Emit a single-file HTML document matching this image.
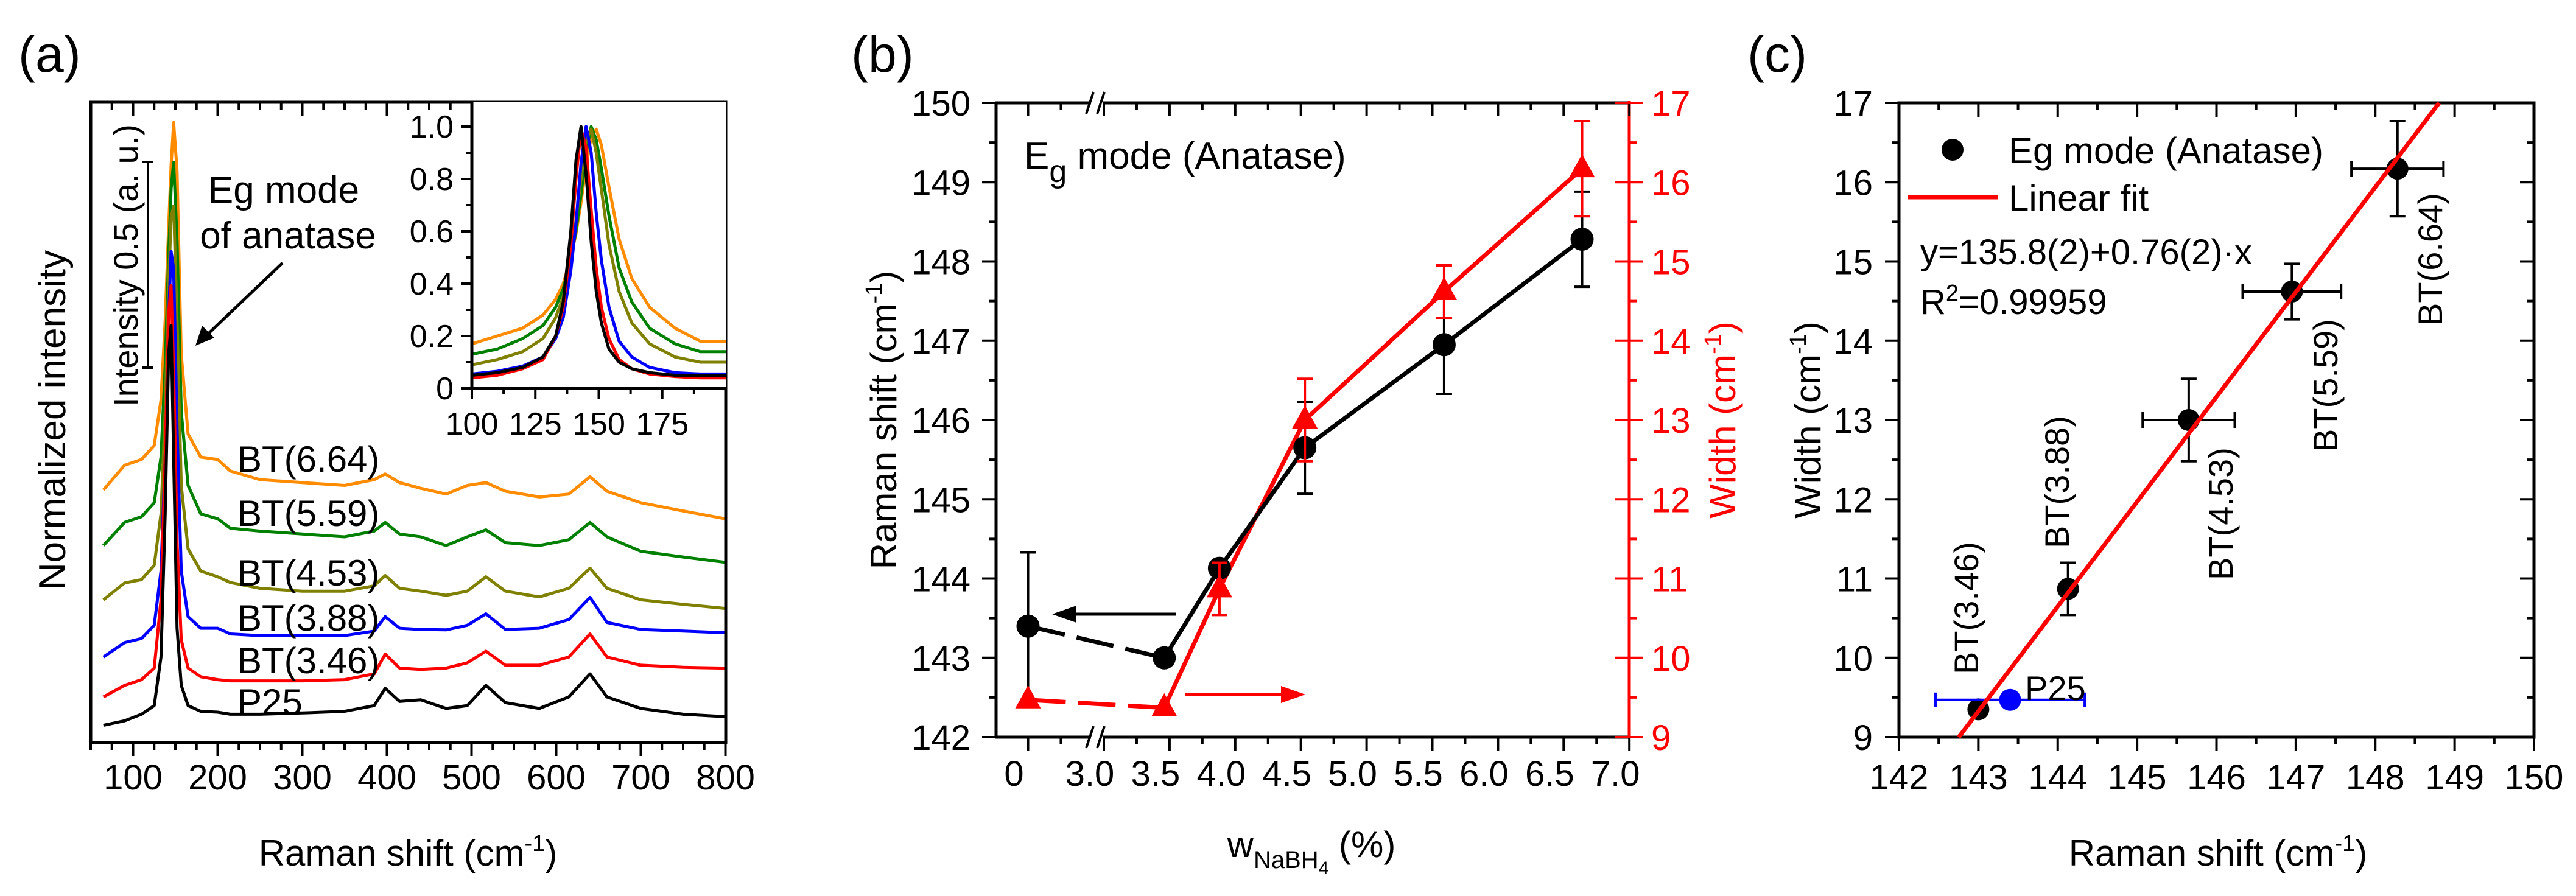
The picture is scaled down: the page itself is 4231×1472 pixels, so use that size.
<!DOCTYPE html>
<html><head><meta charset="utf-8"><title>Raman figure</title>
<style>
html,body{margin:0;padding:0;background:#fff;}
svg{display:block;font-family:"Liberation Sans",Arial,sans-serif;}
</style></head>
<body>
<svg id="fig" xmlns="http://www.w3.org/2000/svg" width="4231" height="1472" viewBox="0 0 4231 1472">
<rect x="0" y="0" width="4231" height="1472" fill="#ffffff"/>
<g id="pa"></g>
<g id="pb"></g>
<g id="pc"></g>

<!-- Panel a static text -->
<text x="30" y="118" font-size="84">(a)</text>
<text x="670" y="1422" font-size="60" text-anchor="middle">Raman shift (cm<tspan dy="-24" font-size="38">-1</tspan><tspan dy="24">)</tspan></text>
<text transform="translate(107,690) rotate(-90)" font-size="62" text-anchor="middle">Normalized intensity</text>
<text transform="translate(226,436) rotate(-90)" font-size="56" text-anchor="middle">Intensity 0.5 (a. u.)</text>
<text x="466" y="333" font-size="62" text-anchor="middle">Eg mode</text>
<text x="473" y="408" font-size="62" text-anchor="middle">of anatase</text>
<g font-size="60">
<text x="390" y="775">BT(6.64)</text>
<text x="390" y="864">BT(5.59)</text>
<text x="390" y="962">BT(4.53)</text>
<text x="390" y="1036">BT(3.88)</text>
<text x="390" y="1106">BT(3.46)</text>
<text x="390" y="1174">P25</text>
</g>

<!-- Panel b static text -->
<text x="1398" y="118" font-size="84">(b)</text>
<text x="1682" y="277" font-size="62">E<tspan dy="22" font-size="52">g</tspan><tspan dy="-22"> mode (Anatase)</tspan></text>
<text transform="translate(1472,690) rotate(-90)" font-size="60" text-anchor="middle">Raman shift (cm<tspan dy="-24" font-size="38">-1</tspan><tspan dy="24">)</tspan></text>
<text transform="translate(2850,690) rotate(-90)" font-size="60" text-anchor="middle" fill="#ff0000">Width (cm<tspan dy="-24" font-size="38">-1</tspan><tspan dy="24">)</tspan></text>
<text x="2154" y="1408" font-size="60" text-anchor="middle">w<tspan dy="18" font-size="40">NaBH</tspan><tspan dy="10" font-size="30">4</tspan><tspan dy="-28"> (%)</tspan></text>

<!-- Panel c static text -->
<text x="2870" y="118" font-size="84">(c)</text>
<text transform="translate(2990,690) rotate(-90)" font-size="60" text-anchor="middle">Width (cm<tspan dy="-24" font-size="38">-1</tspan><tspan dy="24">)</tspan></text>
<text x="3643" y="1422" font-size="60" text-anchor="middle">Raman shift (cm<tspan dy="-24" font-size="38">-1</tspan><tspan dy="24">)</tspan></text>
<g>
<circle cx="3207" cy="246" r="18" fill="#000"/>
<text x="3299" y="268" font-size="60">Eg mode (Anatase)</text>
<line x1="3134" y1="324" x2="3282" y2="324" stroke="#ff0000" stroke-width="7"/>
<text x="3299" y="346" font-size="60">Linear fit</text>
</g>
<text x="3154" y="434" font-size="58">y=135.8(2)+0.76(2)·x</text>
<text x="3154" y="516" font-size="58">R<tspan dy="-22" font-size="38">2</tspan><tspan dy="22">=0.99959</tspan></text>
<text x="3326" y="1150" font-size="56">P25</text>
<g font-size="56">
<text transform="translate(3249,1108) rotate(-90)">BT(3.46)</text>
<text transform="translate(3398,901) rotate(-90)">BT(3.88)</text>
<text transform="translate(3667,953) rotate(-90)">BT(4.53)</text>
<text transform="translate(3839,742) rotate(-90)">BT(5.59)</text>
<text transform="translate(4011,535) rotate(-90)">BT(6.64)</text>
</g>
</svg>

<script>
// ---------- Panel a data ----------
const specX = [65,90,110,125,133,138,142,145,148,152,157,165,180,200,215,250,300,350,385,398,415,440,470,495,517,540,580,615,640,660,700,750,800];
const specP25 = [4.2,5.3,6.9,9,20.8,55.6,94.4,101.4,69.4,27.8,13.9,9,7.6,7.4,6.9,6.9,7.2,7.6,9,13.2,10,10.4,8.3,9,13.9,9.7,8.3,11.1,16.7,11.1,8.3,6.9,6.3];
const specBT346 = [11.1,13.9,15.3,18.1,34.7,69.4,104.2,111.1,90.3,48.6,25,18.1,16,15.3,15,15,15,15.3,16.7,21.5,18.1,17.8,18.1,19.4,22.2,18.8,18.8,20.8,26.4,20.8,18.8,18.3,18.1];
const specBT388 = [20.8,24.3,25.3,28.5,41.7,69.4,102.8,119.4,115.1,76.4,41.7,30.6,27.8,27.8,26.4,26,26,26,27.1,30.6,27.8,27.5,27.4,28.5,31.3,27.5,27.8,29.9,35.3,29.2,27.5,27.1,26.7];
const specBT453 = [34.7,38.8,39.6,43.1,55.6,80.4,111.1,127.6,130.4,102.6,62.5,47.1,41.7,40.3,38.9,37.5,36.8,36.8,38.1,40.6,37.5,36.8,35.8,36.8,40.3,36.8,35.4,37.5,42.4,37.5,34.7,33.6,32.6];
const specBT559 = [47.9,53.5,54.9,58.3,69.4,91.5,118,134.6,141,122,80.4,62.5,55.6,54.4,52.1,51.4,50.7,50,51.4,53.5,50.7,50,47.9,50,51.7,48.6,47.9,49.3,53.5,50,46.5,45.1,43.8];
const specBT664 = [61.4,67.4,68.8,72.2,83.3,102.8,125,140.3,150.7,138.9,94.4,75,69.4,68.8,66,63.9,63.2,62.5,63.9,65.3,63.2,61.8,60.4,62.5,63.2,61.1,59.7,60.4,64.6,61.1,58.3,56.3,54.4];
const xTicksA = [100,200,300,400,500,600,700,800];
// inset
const insetX = [100,110,120,128,133,136,139,141,143,145,147,149,151,154,158,163,170,180,190,200];
const insP25 = [0.05,0.06,0.08,0.12,0.2,0.33,0.6,0.87,1.0,0.82,0.56,0.37,0.25,0.15,0.1,0.075,0.06,0.05,0.048,0.048];
const insBT346 = [0.04,0.05,0.075,0.11,0.2,0.31,0.55,0.8,0.99,0.92,0.68,0.46,0.31,0.19,0.11,0.075,0.055,0.045,0.04,0.04];
const insBT388 = [0.055,0.065,0.085,0.12,0.19,0.27,0.45,0.63,0.86,1.0,0.9,0.67,0.49,0.31,0.18,0.12,0.08,0.06,0.055,0.055];
const insBT453 = [0.09,0.11,0.14,0.19,0.27,0.35,0.5,0.64,0.8,0.95,0.99,0.9,0.76,0.55,0.37,0.25,0.17,0.12,0.1,0.1];
const insBT559 = [0.13,0.15,0.19,0.24,0.31,0.38,0.5,0.6,0.74,0.9,1.0,0.95,0.84,0.66,0.46,0.33,0.23,0.17,0.14,0.14];
const insBT664 = [0.17,0.2,0.23,0.28,0.34,0.4,0.5,0.59,0.71,0.85,0.96,0.99,0.93,0.77,0.57,0.42,0.31,0.23,0.18,0.18];
const insetXTicks = [100,125,150,175];
const insetYTicks = [0,0.2,0.4,0.6,0.8,1.0];
const insetYLabels = ["0","0.2","0.4","0.6","0.8","1.0"];

// ---------- Panel b data ----------
const wNaBH4 = [0,3.46,3.88,4.53,5.59,6.64];
const ramanShift = [143.4,143.0,144.13,145.65,146.95,148.28];
const ramanErr = [0.93,0,0.08,0.58,0.62,0.6];
const widthVals = [9.47,9.37,10.87,13.0,14.62,16.17];
const widthErr = [0,0,0.33,0.52,0.33,0.6];
const xTicksB = [0,3.0,3.5,4.0,4.5,5.0,5.5,6.0,6.5,7.0];
const xLabelsB = ["0","3.0","3.5","4.0","4.5","5.0","5.5","6.0","6.5","7.0"];
const yLeftTicksB = [142,143,144,145,146,147,148,149,150];
const yRightTicksB = [9,10,11,12,13,14,15,16,17];

// ---------- Panel c data ----------
const cShift = [143.0,144.13,145.65,146.95,148.28];
const cShiftErr = [0,0.05,0.58,0.62,0.58];
const cWidth = [9.35,10.87,13.0,14.62,16.17];
const cWidthErr = [0,0.33,0.52,0.35,0.6];
const p25Shift = [143.4];
const p25ShiftErr = [0.94];
const p25Width = [9.47];
const fitSlope = [1.322];
const fitIntercept = [-179.72];
const xTicksC = [142,143,144,145,146,147,148,149,150];
const yTicksC = [9,10,11,12,13,14,15,16,17];

const NS = 'http://www.w3.org/2000/svg';
function mk(parent, tag, name, attrs, text) {
  const el = document.createElementNS(NS, tag);
  
  
  for (const k in attrs) el.setAttribute(k, attrs[k]);
  if (text !== undefined) el.textContent = text;
  parent.appendChild(el);
  return el;
}
function line(p, name, x1, y1, x2, y2, col, w, extra) {
  const a = {x1:x1, y1:y1, x2:x2, y2:y2, stroke:col, 'stroke-width':w};
  if (extra) for (const k in extra) a[k] = extra[k];
  return mk(p, 'line', name, a);
}
function pathFrom(xs, ys, fx, fy) {
  return xs.map((v, i) => (i ? 'L' : 'M') + fx(v).toFixed(1) + ',' + fy(ys[i]).toFixed(1)).join(' ');
}

// ===== Panel a =====
const pa = document.getElementById('pa');
const xa = v => 149 + (v - 50) * 1.39;
const ya = v => 1220 - 6.76 * v;
const xi = v => 775 + (v - 100) * 4.17;
const yi = v => 638 - 430 * v;
const defs = mk(pa, 'defs', 'clip-defs', {});
const cpA = mk(defs, 'clipPath', 'clip-a', {id:'clipA'});
mk(cpA, 'rect', 'clip-a-rect', {x:149, y:168, width:1043, height:1052});
const cpI = mk(defs, 'clipPath', 'clip-inset', {id:'clipI'});
mk(cpI, 'rect', 'clip-inset-rect', {x:775, y:168, width:417, height:470});

const seriesA = [
  ['spectrum-p25', specP25, insP25, '#000000'],
  ['spectrum-bt346', specBT346, insBT346, '#ff0000'],
  ['spectrum-bt388', specBT388, insBT388, '#0000ff'],
  ['spectrum-bt453', specBT453, insBT453, '#808000'],
  ['spectrum-bt559', specBT559, insBT559, '#008000'],
  ['spectrum-bt664', specBT664, insBT664, '#ff8c00']
];
const gA = mk(pa, 'g', 'spectra', {'clip-path':'url(#clipA)'});
for (let i = seriesA.length - 1; i >= 0; i--) {
  const s = seriesA[i];
  mk(gA, 'path', s[0], {d: pathFrom(specX, s[1], xa, ya), fill:'none', stroke:s[3], 'stroke-width':5, 'stroke-linejoin':'round'});
}
// frame a
mk(pa, 'rect', 'panel-a-frame', {x:149, y:168, width:1043, height:1052, fill:'none', stroke:'#000', 'stroke-width':5});
for (let v = 50; v <= 800; v += 25) {
  const major = xTicksA.indexOf(v) >= 0;
  const L = major ? 22 : 12;
  line(pa, 'x-tick-a-bottom', xa(v), 1220, xa(v), 1220 + L, '#000', 4);
  line(pa, 'x-tick-a-top', xa(v), 168, xa(v), 168 + L, '#000', 4);
}
xTicksA.forEach(v => {
  mk(pa, 'text', 'x-tick-label-a', {x:xa(v), y:1297, 'font-size':58, 'text-anchor':'middle'}, String(v));
});
// scale bar
line(pa, 'scale-bar', 243, 266, 243, 604, '#000', 4);
line(pa, 'scale-bar-cap-top', 234, 266, 252, 266, '#000', 4);
line(pa, 'scale-bar-cap-bottom', 234, 604, 252, 604, '#000', 4);
// arrow
line(pa, 'eg-arrow-shaft', 464, 432, 336, 554, '#000', 5);
mk(pa, 'polygon', 'eg-arrow-head', {points:'321,568 332,535 352,555', fill:'#000'});

// inset
mk(pa, 'rect', 'inset-background', {x:775, y:168, width:417, height:470, fill:'#fff'});
const gI = mk(pa, 'g', 'inset-spectra', {'clip-path':'url(#clipI)'});
for (let i = seriesA.length - 1; i >= 0; i--) {
  const s = seriesA[i];
  mk(gI, 'path', 'inset-' + s[0], {d: pathFrom(insetX, s[2], xi, yi), fill:'none', stroke:s[3], 'stroke-width':5, 'stroke-linejoin':'round'});
}
line(pa, 'inset-y-axis', 775, 168, 775, 640, '#000', 5);
line(pa, 'inset-x-axis', 773, 638, 1192, 638, '#000', 5);
for (let v = 100; v <= 200; v += 12.5) {
  const major = insetXTicks.indexOf(v) >= 0;
  line(pa, 'inset-x-tick', xi(v), 638, xi(v), 638 + (major ? 18 : 10), '#000', 4);
}
insetXTicks.forEach(v => {
  mk(pa, 'text', 'inset-x-tick-label', {x:xi(v), y:714, 'font-size':52, 'text-anchor':'middle'}, String(v));
});
for (let k = 0; k <= 10; k++) {
  const v = k / 10;
  const major = (k % 2 === 0);
  line(pa, 'inset-y-tick', 775, yi(v), 775 - (major ? 18 : 10), yi(v), '#000', 4);
}
insetYTicks.forEach((v, i) => {
  mk(pa, 'text', 'inset-y-tick-label', {x:745, y:yi(v) + 18, 'font-size':52, 'text-anchor':'end'}, insetYLabels[i]);
});

// ===== Panel b =====
const pb = document.getElementById('pb');
const xb = v => v < 1 ? 1688.5 + v * 215.8 : 1813 + (v - 3) * 215.8;
const ylb = v => 169 + (150 - v) * 130.25;
const yrb = v => 169 + (17 - v) * 130.25;
// axes
line(pb, 'b-left-axis', 1636, 169, 1636, 1211, '#000', 5);
line(pb, 'b-bottom-axis-1', 1634, 1211, 1792, 1211, '#000', 5);
line(pb, 'b-bottom-axis-2', 1812, 1211, 2676, 1211, '#000', 5);
line(pb, 'b-top-axis-1', 1634, 169, 1792, 169, '#000', 5);
line(pb, 'b-top-axis-2', 1812, 169, 2676, 169, '#000', 5);
line(pb, 'b-right-axis', 2676, 166, 2676, 1213, '#ff0000', 5);
[169, 1211].forEach(y => {
  line(pb, 'axis-break-mark', 1784, y + 18, 1796, y - 18, '#000', 4);
  line(pb, 'axis-break-mark', 1802, y + 18, 1814, y - 18, '#000', 4);
});
// x ticks
const minorB = [0.25,3.25,3.75,4.25,4.75,5.25,5.75,6.25,6.75];
xTicksB.forEach((v, i) => {
  line(pb, 'b-x-tick-bottom', xb(v), 1211, xb(v), 1234, '#000', 4);
  line(pb, 'b-x-tick-top', xb(v), 169, xb(v), 190, '#000', 4);
  mk(pb, 'text', 'b-x-tick-label', {x:xb(v) - 23, y:1291, 'font-size':58, 'text-anchor':'middle'}, xLabelsB[i]);
});
minorB.forEach(v => {
  line(pb, 'b-x-minor-tick-bottom', xb(v), 1211, xb(v), 1223, '#000', 4);
  line(pb, 'b-x-minor-tick-top', xb(v), 169, xb(v), 181, '#000', 4);
});
yLeftTicksB.forEach(v => {
  line(pb, 'b-y-left-tick', 1636, ylb(v), 1613, ylb(v), '#000', 4);
  if (v < 150) line(pb, 'b-y-left-minor-tick', 1636, ylb(v + 0.5), 1624, ylb(v + 0.5), '#000', 4);
  mk(pb, 'text', 'b-y-left-tick-label', {x:1594, y:ylb(v) + 21, 'font-size':58, 'text-anchor':'end'}, String(v));
});
yRightTicksB.forEach(v => {
  line(pb, 'b-y-right-tick', 2653, yrb(v), 2699, yrb(v), '#ff0000', 4);
  if (v < 17) line(pb, 'b-y-right-minor-tick', 2676, yrb(v + 0.5), 2688, yrb(v + 0.5), '#ff0000', 4);
  mk(pb, 'text', 'b-y-right-tick-label', {x:2712, y:yrb(v) + 21, 'font-size':58, fill:'#ff0000'}, String(v));
});
// arrows
line(pb, 'left-axis-arrow-shaft', 1932, 1009, 1760, 1009, '#000', 5);
mk(pb, 'polygon', 'left-axis-arrow-head', {points:'1728,1009 1768,995 1768,1023', fill:'#000'});
line(pb, 'right-axis-arrow-shaft', 1946, 1141, 2112, 1141, '#ff0000', 5);
mk(pb, 'polygon', 'right-axis-arrow-head', {points:'2144,1141 2104,1127 2104,1155', fill:'#ff0000'});
// red series lines
line(pb, 'width-line-dashed', xb(wNaBH4[0]), yrb(widthVals[0]), xb(wNaBH4[1]), yrb(widthVals[1]), '#ff0000', 7, {'stroke-dasharray':'62 20'});
mk(pb, 'path', 'width-line', {d: pathFrom(wNaBH4.slice(1), widthVals.slice(1), xb, yrb), fill:'none', stroke:'#ff0000', 'stroke-width':7});
// black series lines
line(pb, 'shift-line-dashed', xb(wNaBH4[0]), ylb(ramanShift[0]), xb(wNaBH4[1]), ylb(ramanShift[1]), '#000', 7, {'stroke-dasharray':'62 20'});
mk(pb, 'path', 'shift-line', {d: pathFrom(wNaBH4.slice(1), ramanShift.slice(1), xb, ylb), fill:'none', stroke:'#000', 'stroke-width':7});
// error bars and markers
wNaBH4.forEach((w, i) => {
  const x = xb(w);
  if (ramanErr[i] > 0) {
    const y1 = ylb(ramanShift[i] + ramanErr[i]), y2 = ylb(ramanShift[i] - ramanErr[i]);
    line(pb, 'shift-error-bar', x, y1, x, y2, '#000', 4);
    line(pb, 'shift-error-cap', x - 13, y1, x + 13, y1, '#000', 4);
    line(pb, 'shift-error-cap', x - 13, y2, x + 13, y2, '#000', 4);
  }
  mk(pb, 'circle', 'shift-point', {cx:x, cy:ylb(ramanShift[i]), r:19, fill:'#000'});
});
wNaBH4.forEach((w, i) => {
  const x = xb(w), y = yrb(widthVals[i]);
  if (widthErr[i] > 0) {
    const y1 = yrb(widthVals[i] + widthErr[i]), y2 = yrb(widthVals[i] - widthErr[i]);
    line(pb, 'width-error-bar', x, y1, x, y2, '#ff0000', 4);
    line(pb, 'width-error-cap', x - 13, y1, x + 13, y1, '#ff0000', 4);
    line(pb, 'width-error-cap', x - 13, y2, x + 13, y2, '#ff0000', 4);
  }
  mk(pb, 'polygon', 'width-point', {points:(x)+','+(y-24)+' '+(x-21)+','+(y+14)+' '+(x+21)+','+(y+14), fill:'#ff0000'});
});

// ===== Panel c =====
const pc = document.getElementById('pc');
const xc = v => 3119 + (v - 142) * 130.375;
const yc = v => 169 + (17 - v) * 130.25;
mk(pc, 'rect', 'panel-c-frame', {x:3119, y:169, width:1043, height:1042, fill:'none', stroke:'#000', 'stroke-width':5});
xTicksC.forEach(v => {
  line(pc, 'c-x-tick-bottom', xc(v), 1211, xc(v), 1234, '#000', 4);
  line(pc, 'c-x-tick-top', xc(v), 169, xc(v), 192, '#000', 4);
  if (v < 150) {
    line(pc, 'c-x-minor-tick-bottom', xc(v + 0.5), 1211, xc(v + 0.5), 1223, '#000', 4);
    line(pc, 'c-x-minor-tick-top', xc(v + 0.5), 169, xc(v + 0.5), 181, '#000', 4);
  }
  mk(pc, 'text', 'c-x-tick-label', {x:xc(v), y:1297, 'font-size':58, 'text-anchor':'middle'}, String(v));
});
yTicksC.forEach(v => {
  line(pc, 'c-y-tick-left', 3119, yc(v), 3096, yc(v), '#000', 4);
  line(pc, 'c-y-tick-right', 4162, yc(v), 4139, yc(v), '#000', 4);
  if (v < 17) {
    line(pc, 'c-y-minor-tick-left', 3119, yc(v + 0.5), 3107, yc(v + 0.5), '#000', 4);
    line(pc, 'c-y-minor-tick-right', 4162, yc(v + 0.5), 4150, yc(v + 0.5), '#000', 4);
  }
  mk(pc, 'text', 'c-y-tick-label', {x:3076, y:yc(v) + 21, 'font-size':58, 'text-anchor':'end'}, String(v));
});
// error bars + points
cShift.forEach((s, i) => {
  const x = xc(s), y = yc(cWidth[i]);
  if (cShiftErr[i] > 0.1) {
    const x1 = xc(s - cShiftErr[i]), x2 = xc(s + cShiftErr[i]);
    line(pc, 'c-x-error-bar', x1, y, x2, y, '#000', 4);
    line(pc, 'c-x-error-cap', x1, y - 13, x1, y + 13, '#000', 4);
    line(pc, 'c-x-error-cap', x2, y - 13, x2, y + 13, '#000', 4);
  }
  if (cWidthErr[i] > 0) {
    const y1 = yc(cWidth[i] + cWidthErr[i]), y2 = yc(cWidth[i] - cWidthErr[i]);
    line(pc, 'c-y-error-bar', x, y1, x, y2, '#000', 4);
    line(pc, 'c-y-error-cap', x - 13, y1, x + 13, y1, '#000', 4);
    line(pc, 'c-y-error-cap', x - 13, y2, x + 13, y2, '#000', 4);
  }
  mk(pc, 'circle', 'c-data-point', {cx:x, cy:y, r:18, fill:'#000'});
});
// P25
p25Shift.forEach((s, i) => {
  const y = yc(p25Width[i]);
  const x1 = xc(s - p25ShiftErr[i]), x2 = xc(s + p25ShiftErr[i]);
  line(pc, 'p25-x-error-bar', x1, y, x2, y, '#0000ff', 4);
  line(pc, 'p25-x-error-cap', x1, y - 12, x1, y + 12, '#0000ff', 4);
  line(pc, 'p25-x-error-cap', x2, y - 12, x2, y + 12, '#0000ff', 4);
  mk(pc, 'circle', 'p25-point', {cx:xc(s), cy:y, r:18, fill:'#0000ff'});
});
// fit line (clipped to frame)
const fy = x => fitIntercept[0] + fitSlope[0] * x;
const fxAt = w => (w - fitIntercept[0]) / fitSlope[0];
let fx1 = Math.max(142, fxAt(9)), fx2 = Math.min(150, fxAt(17));
line(pc, 'linear-fit-line', xc(fx1), yc(fy(fx1)), xc(fx2), yc(fy(fx2)), '#ff0000', 7);
</script>
</body></html>
